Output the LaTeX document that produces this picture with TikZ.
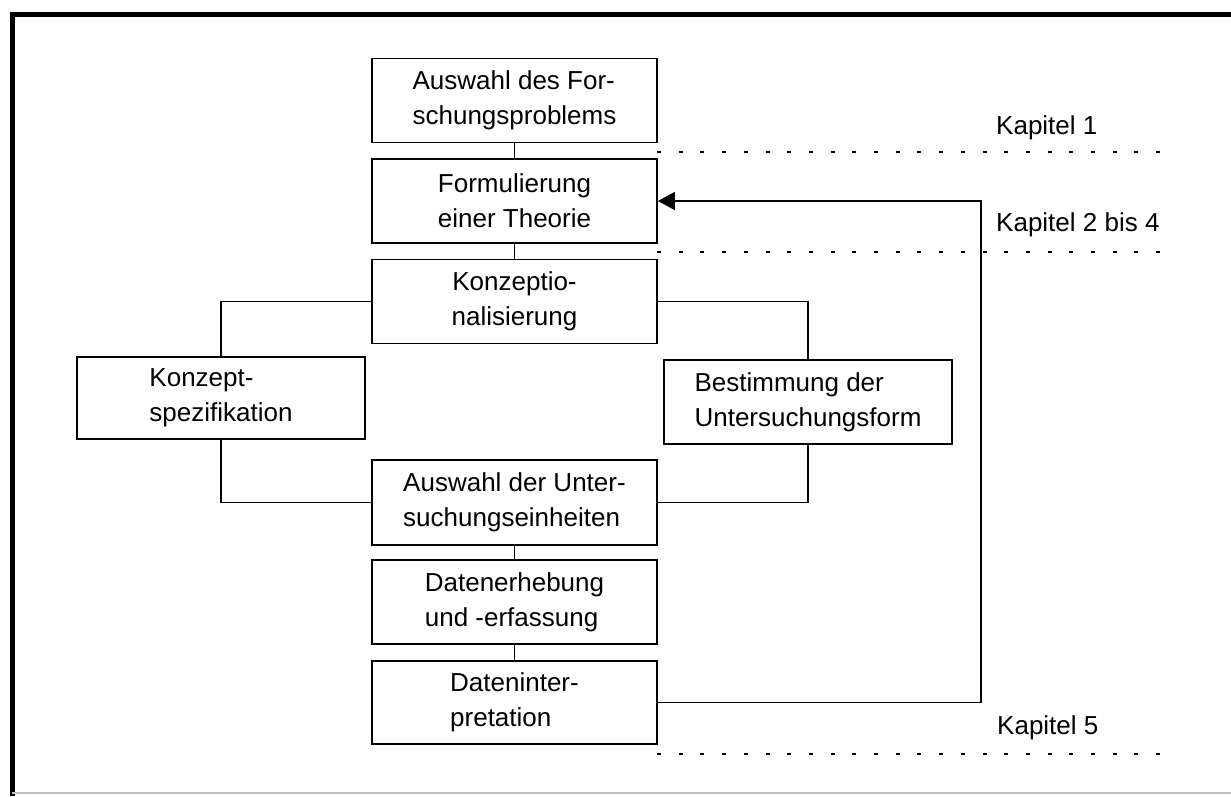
\documentclass[tikz,border=0pt]{standalone}
\usepackage{fontspec}
\setmainfont{Liberation Sans}
\usetikzlibrary{arrows.meta}
\begin{document}
\begin{tikzpicture}[x=1pt,y=-1pt,
  box/.style={draw,line width=1.8pt,minimum width=285pt,minimum height=84pt,
    align=left,inner sep=2pt,font=\fontsize{26}{35}\selectfont},
  widebox/.style={box,minimum width=288pt},
  conn/.style={line width=1.8pt},
  frameline/.style={line width=5pt},
  dotline/.style={line width=2pt,dash pattern=on 4pt off 17.7pt},
  kap/.style={anchor=west,inner sep=0pt,font=\fontsize{26}{31}\selectfont}]
\useasboundingbox (0,0) rectangle (1231,796);
\fill[white] (0,0) rectangle (1231,796);
% frame
\draw[frameline] (12,796) -- (12,14) -- (1231,14);
\draw[line width=1.5pt,black!25] (12,793) -- (1231,793);
% boxes
\node[box] (b1) at (514.5,100.5) {Auswahl des For-\\schungsproblems};
\node[box] (b2) at (514.5,201) {Formulierung\\einer Theorie};
\node[box,align=center] (b3) at (514.5,301.5) {Konzeptio-\\nalisierung};
\node[widebox,minimum height=82pt] (b4) at (221,398) {Konzept-\\spezifikation};
\node[widebox] (b5) at (808,402) {Bestimmung der\\Untersuchungsform};
\node[box,minimum height=85pt] (b6) at (514.5,502.5) {Auswahl der Unter-\\suchungseinheiten};
\node[box] (b7) at (514.5,602) {Datenerhebung\\und -erfassung};
\node[box,minimum height=83pt] (b8) at (514.5,702.5) {Dateninter-\\pretation};
% connectors
\draw[conn] (b1) -- (b2);
\draw[conn] (b2) -- (b3);
\draw[conn] (b6) -- (b7);
\draw[conn] (b7) -- (b8);
\draw[conn] (b3.west) -| (b4.north);
\draw[conn] (b3.east) -| (b5.north);
\draw[conn] (b4.south) |- (b6.west);
\draw[conn] (b5.south) |- (b6.east);
\coordinate (fb) at (981,201);
\draw[conn,-{Triangle[length=17pt,width=18pt]}] (b8.east) -| (fb) -- (b2.east);
% chapter separators
\coordinate (d1a) at (657,152); \coordinate (d1b) at (1167,152);
\coordinate (d2a) at (657,252); \coordinate (d2b) at (1167,252);
\coordinate (d3a) at (657,754); \coordinate (d3b) at (1167,754);
\draw[dotline] (d1a) -- (d1b);
\draw[dotline] (d2a) -- (d2b);
\draw[dotline] (d3a) -- (d3b);
\node[kap] (k1) at (996,128) {Kapitel 1};
\node[kap] (k2) at (996,225) {Kapitel 2 bis 4};
\node[kap] (k5) at (997,728) {Kapitel 5};
\end{tikzpicture}
\end{document}
